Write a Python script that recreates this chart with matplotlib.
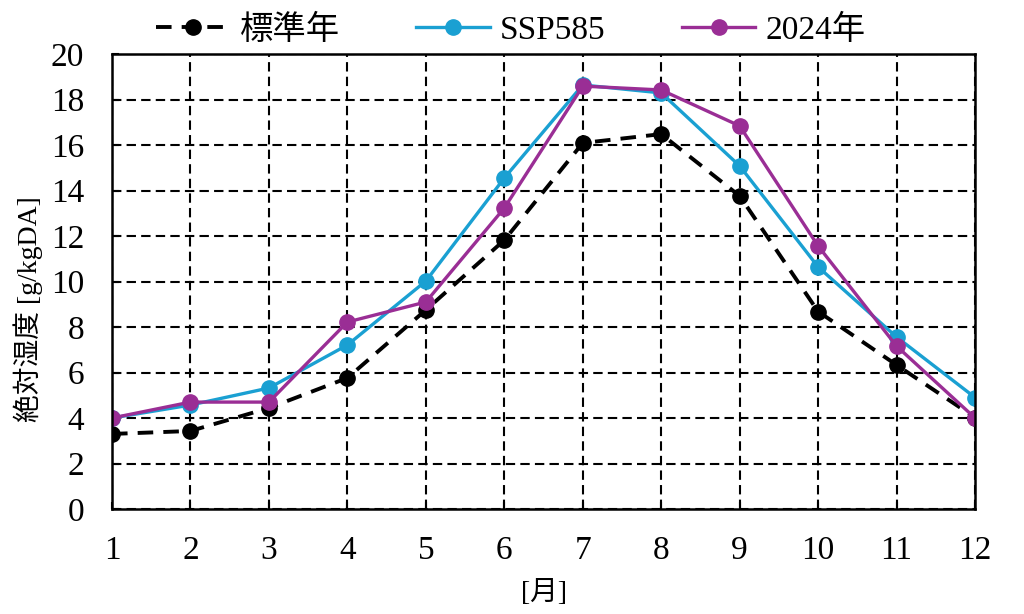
import matplotlib
matplotlib.use("Agg")
import matplotlib.pyplot as plt

plt.rcParams["font.family"] = ["Liberation Serif", "Noto Sans CJK JP", "DejaVu Sans"]

months = [1, 2, 3, 4, 5, 6, 7, 8, 9, 10, 11, 12]
standard_year = [3.30, 3.43, 4.44, 5.76, 8.75, 11.82, 16.09, 16.48, 13.76, 8.68, 6.33, 4.02]
ssp585 = [4.00, 4.57, 5.32, 7.21, 10.02, 14.55, 18.64, 18.29, 15.08, 10.64, 7.56, 4.90]
year_2024 = [4.00, 4.70, 4.70, 8.22, 9.10, 13.23, 18.59, 18.42, 16.84, 11.56, 7.16, 4.00]

fig = plt.figure(figsize=(10.24, 6.14), dpi=100)
ax = fig.add_axes([0.1094, 0.171, 0.8428, 0.741])

ax.plot(months, standard_year, color="black", linestyle=(0, (4, 2.6)), linewidth=2.8,
        marker="o", markersize=11, label="標準年", zorder=3)
ax.plot(months, ssp585, color="#1aa0d2", linewidth=2.4,
        marker="o", markersize=11, label="SSP585", zorder=3)
ax.plot(months, year_2024, color="#9a2e95", linewidth=2.4,
        marker="o", markersize=11, label="2024年", zorder=3)

ax.set_xlim(1, 12)
ax.set_ylim(0, 20)
ax.set_xticks(months)
ax.set_yticks(range(0, 21, 2))
ax.grid(True, color="black", linestyle=(0, (4.5, 2.5)), linewidth=1.5)
ax.tick_params(axis="both", labelsize=24, direction="in", length=5, width=1.5)
ax.tick_params(axis="x", pad=19)
ax.tick_params(axis="y", pad=20)
for s in ax.spines.values():
    s.set_linewidth(1.8)
    s.set_zorder(5)

ax.set_ylabel("絶対湿度 [g/kgDA]", fontsize=20)
ax.yaxis.set_label_coords(-0.080, 0.44)
ax.set_xlabel("[月]", fontsize=20, labelpad=10)

ax.legend(loc="lower center", bbox_to_anchor=(0.462, 0.982), ncol=3, frameon=False,
          fontsize=24, handlelength=2.2, columnspacing=2.3, handletextpad=0.3,
          borderaxespad=0.1)

fig.savefig("out.png", dpi=100)
